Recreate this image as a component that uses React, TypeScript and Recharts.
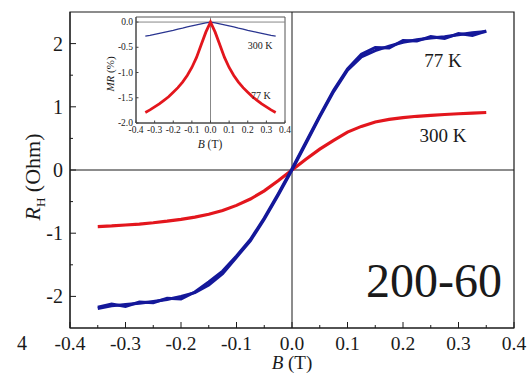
import { LineChart, Line, XAxis, YAxis, ReferenceLine, ReferenceArea, ReferenceDot } from "recharts"

const fieldB = [
  -0.35, -0.325, -0.3, -0.275, -0.25, -0.225, -0.2, -0.175, -0.15, -0.125, -0.1, -0.075, -0.05, -0.025, 0,
  0.025, 0.05, 0.075, 0.1, 0.125, 0.15, 0.175, 0.2, 0.225, 0.25, 0.275, 0.3, 0.325, 0.35,
]
// Hall resistance, 77 K (two sweeps), 300 K
const rh77Up = [
  -2.19, -2.15, -2.13, -2.11, -2.08, -2.05, -2.0, -1.94, -1.82, -1.64, -1.38, -1.12, -0.78, -0.4, 0,
  0.42, 0.84, 1.24, 1.58, 1.79, 1.89, 1.96, 2.02, 2.06, 2.09, 2.11, 2.14, 2.17, 2.19,
]
const rh77Down = [
  -2.17, -2.12, -2.16, -2.09, -2.1, -2.03, -2.04, -1.93, -1.77, -1.6, -1.36, -1.1, -0.76, -0.38, 0.02,
  0.44, 0.86, 1.26, 1.6, 1.83, 1.94, 1.93, 2.05, 2.04, 2.11, 2.08, 2.16, 2.13, 2.2,
]
const rh300 = [
  -0.895, -0.885, -0.87, -0.855, -0.835, -0.81, -0.78, -0.745, -0.7, -0.64, -0.56, -0.46, -0.33, -0.17, 0,
  0.17, 0.33, 0.47, 0.6, 0.69, 0.76, 0.8, 0.83, 0.85, 0.865, 0.878, 0.89, 0.9, 0.91,
]
// magnetoresistance (%) for the inset
const mr77 = [
  -1.79, -1.74, -1.68, -1.62, -1.55, -1.48, -1.39, -1.3, -1.19, -1.06, -0.9, -0.7, -0.45, -0.2, 0,
  -0.2, -0.45, -0.7, -0.9, -1.06, -1.19, -1.3, -1.39, -1.48, -1.55, -1.62, -1.68, -1.74, -1.79,
]
const mr300 = [
  -0.28, -0.265, -0.245, -0.225, -0.205, -0.185, -0.165, -0.14, -0.12, -0.095, -0.075, -0.055, -0.035, -0.015, 0,
  -0.015, -0.035, -0.055, -0.075, -0.095, -0.12, -0.14, -0.165, -0.185, -0.205, -0.225, -0.245, -0.265, -0.28,
]

const mainXTicks = [-0.4, -0.35, -0.3, -0.25, -0.2, -0.15, -0.1, -0.05, 0, 0.05, 0.1, 0.15, 0.2, 0.25, 0.3, 0.35, 0.4]
const mainYTicks = [-2, -1.5, -1, -0.5, 0, 0.5, 1, 1.5, 2]
const insetXTicks = [-0.4, -0.3, -0.2, -0.1, 0, 0.1, 0.2, 0.3, 0.4]
const insetYTicks = [0, -0.5, -1, -1.5, -2]

const rows = fieldB.map((b, i) => ({ b, up: rh77Up[i], down: rh77Down[i], hot: rh300[i] }))
const insetRows = fieldB.map((b, i) => ({ b, cold: mr77[i], hot: mr300[i] }))

const serif = "Liberation Serif, Times New Roman, Times, serif"
const ink = "#1a1a1a"
const blue = "#14189a"
const red = "#e3161d"

const isMajor = (v: number, step: number) => Math.abs(v / step - Math.round(v / step)) < 1e-6

function MainXTick({ x, y, payload }: any) {
  const v = payload.value
  const major = isMajor(v, 0.1)
  return (
    <g>
      <line x1={x} x2={x} y1={y} y2={y - (major ? 6 : 3)} stroke={ink} />
      {major && (
        <text x={x} y={y + 22} textAnchor="middle" fontSize={19.5} fontFamily={serif} fill={ink}>
          {v.toFixed(1)}
        </text>
      )}
    </g>
  )
}

function MainYTick({ x, y, payload }: any) {
  const v = payload.value
  const major = isMajor(v, 1)
  return (
    <g>
      <line x1={x} x2={x + (major ? 6 : 3)} y1={y} y2={y} stroke={ink} />
      {major && (
        <text x={x - 7} y={y + 7} textAnchor="end" fontSize={20} fontFamily={serif} fill={ink}>
          {String(v)}
        </text>
      )}
    </g>
  )
}

function InsetXTick({ x, y, payload }: any) {
  return (
    <g>
      <line x1={x} x2={x} y1={y} y2={y - 2.5} stroke="#444" />
      <text x={x} y={y + 10} textAnchor="middle" fontSize={9.5} fontFamily={serif} fill={ink}>
        {payload.value.toFixed(1)}
      </text>
    </g>
  )
}

function InsetYTick({ x, y, payload }: any) {
  return (
    <g>
      <line x1={x} x2={x + 2.5} y1={y} y2={y} stroke="#444" />
      <text x={x - 3} y={y + 3} textAnchor="end" fontSize={9.5} fontFamily={serif} fill={ink}>
        {payload.value.toFixed(1)}
      </text>
    </g>
  )
}

export default function App() {
  return (
    <div style={{ position: "fixed", left: 0, top: 0, width: 530, height: 375, background: "#fff" }}>
      <LineChart width={530} height={375} data={rows} margin={{ top: 12, right: 16, bottom: 17, left: 20 }}>
        <XAxis
          dataKey="b"
          type="number"
          domain={[-0.4, 0.4]}
          ticks={mainXTicks}
          interval={0}
          height={30}
          tickSize={0}
          tickMargin={0}
          tickLine={false}
          axisLine={{ stroke: ink }}
          tick={<MainXTick />}
        />
        <YAxis
          type="number"
          domain={[-2.5, 2.5]}
          ticks={mainYTicks}
          interval={0}
          width={50}
          tickSize={0}
          tickMargin={0}
          tickLine={false}
          axisLine={{ stroke: ink }}
          tick={<MainYTick />}
        />
        <ReferenceArea x1={-0.4} x2={0.4} y1={-2.5} y2={2.5} fill="none" stroke={ink} strokeWidth={1.2} />
        <ReferenceLine x={0} stroke={ink} />
        <ReferenceLine y={0} stroke={ink} />
        <Line dataKey="hot" stroke={red} strokeWidth={3.2} dot={false} isAnimationActive={false} />
        <Line dataKey="down" stroke={blue} strokeWidth={3} dot={false} isAnimationActive={false} />
        <Line dataKey="up" stroke={blue} strokeWidth={3} dot={false} isAnimationActive={false} />
        <ReferenceDot
          x={0.272}
          y={1.73}
          r={0}
          label={{ value: "77 K", position: "center", fontSize: 19, fontFamily: serif, fill: ink }}
        />
        <ReferenceDot
          x={0.272}
          y={0.555}
          r={0}
          label={{ value: "300 K", position: "center", fontSize: 19, fontFamily: serif, fill: ink }}
        />
        <ReferenceDot
          x={0.256}
          y={-1.74}
          r={0}
          label={{ value: "200-60", position: "center", fontSize: 48, fontFamily: serif, fill: ink }}
        />
      </LineChart>

      <div style={{ position: "absolute", left: 90, top: 0 }}>
        <LineChart width={210} height={150} data={insetRows} margin={{ top: 17, right: 15, bottom: 13, left: 16 }}>
          <XAxis
            dataKey="b"
            type="number"
            domain={[-0.4, 0.4]}
            ticks={insetXTicks}
            interval={0}
            height={14}
            tickSize={0}
            tickMargin={0}
            tickLine={false}
            axisLine={{ stroke: "#444" }}
            tick={<InsetXTick />}
          />
          <YAxis
            type="number"
            domain={[-2, 0.1]}
            ticks={insetYTicks}
            interval={0}
            width={30}
            tickSize={0}
            tickMargin={0}
            tickLine={false}
            axisLine={{ stroke: "#444" }}
            tick={<InsetYTick />}
          />
          <ReferenceArea x1={-0.4} x2={0.4} y1={-2} y2={0.1} fill="none" stroke="#555" />
          <ReferenceLine x={0} stroke="#888" />
          <ReferenceLine y={0} stroke="#888" />
          <Line dataKey="hot" stroke="#2a3590" strokeWidth={1.2} dot={false} isAnimationActive={false} />
          <Line dataKey="cold" stroke={red} strokeWidth={2.8} dot={false} isAnimationActive={false} />
          <ReferenceDot
            x={0.266}
            y={-0.46}
            r={0}
            label={{ value: "300 K", position: "center", fontSize: 10, fontFamily: serif, fill: ink }}
          />
          <ReferenceDot
            x={0.27}
            y={-1.45}
            r={0}
            label={{ value: "77 K", position: "center", fontSize: 10, fontFamily: serif, fill: ink }}
          />
        </LineChart>
      </div>

      <svg width={530} height={375} style={{ position: "absolute", left: 0, top: 0, pointerEvents: "none" }}>
        <text x={22} y={350} textAnchor="middle" fontSize={20} fontFamily={serif} fill={ink}>
          4
        </text>
        <text x={292} y={369} textAnchor="middle" fontSize={19} fontFamily={serif} fill={ink}>
          <tspan fontStyle="italic">B</tspan> (T)
        </text>
        <text
          transform="translate(40 177) rotate(-90)"
          textAnchor="middle"
          fontSize={22}
          fontFamily={serif}
          fill={ink}
        >
          <tspan fontStyle="italic">R</tspan>
          <tspan fontSize={13} dy={5}>H</tspan>
          <tspan dy={-5}> (Ohm)</tspan>
        </text>
        <text
          transform="translate(114 74) rotate(-90)"
          textAnchor="middle"
          fontSize={11}
          fontFamily={serif}
          fill={ink}
        >
          <tspan fontStyle="italic">MR</tspan> (%)
        </text>
        <text x={210} y={148} textAnchor="middle" fontSize={11.5} fontFamily={serif} fill={ink}>
          <tspan fontStyle="italic">B</tspan> (T)
        </text>
      </svg>
    </div>
  )
}
